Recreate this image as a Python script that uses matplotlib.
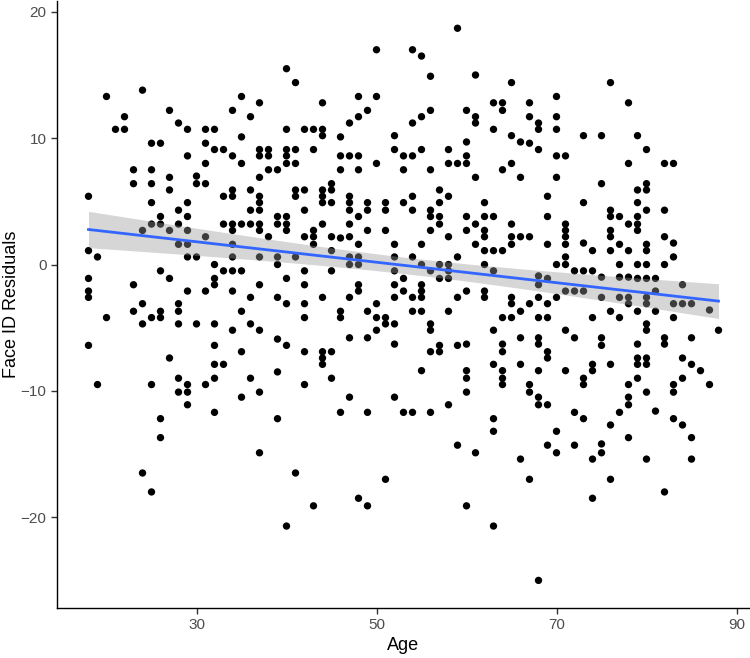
import numpy as np
import matplotlib
matplotlib.use('Agg')
from matplotlib import pyplot as plt

plt.rcParams['font.family'] = ['Liberation Sans', 'DejaVu Sans']

# Age / Face ID residual pairs (top band, middle band, bottom band)
age = [
    # residual > 5
    20, 24, 40, 27, 35, 34, 37, 22, 21, 22, 36, 28, 29, 31, 32, 40, 35, 25, 26, 31,
    32, 33, 37, 38, 40, 29, 34, 37, 38, 40, 31, 35, 40, 23, 25, 38, 39, 27, 30, 37,
    23, 25, 30, 31, 27, 34, 36, 18, 33, 34, 37,
    59, 50, 54, 55, 56, 61, 41, 65, 44, 48, 50, 49, 48, 47, 54, 55, 56, 60, 61, 61,
    63, 64, 64, 42, 43, 44, 44, 46, 52, 63, 65, 66, 60, 41, 43, 52, 55, 58, 46, 47,
    48, 53, 54, 60, 41, 50, 58, 59, 60, 65, 46, 48, 53, 56, 64, 61, 66, 45, 41, 42,
    44, 45, 57, 41, 44, 47, 54, 58,
    76, 70, 67, 78, 67, 70, 68, 68, 70, 73, 75, 79, 67, 68, 80, 70, 71, 78, 82, 83,
    70, 75, 80, 79, 80, 69,
    # -10.5 .. 5
    25, 29, 37, 28, 36, 37, 26, 29, 39, 40, 25, 26, 28, 33, 34, 35, 36, 37, 39, 40,
    24, 27, 29, 34, 37, 40, 31, 38, 28, 29, 34, 18, 19, 29, 30, 34, 37, 39, 32, 39,
    26, 33, 34, 35, 18, 27, 32, 40, 23, 32, 37, 18, 29, 31, 34, 18, 36, 39, 24, 28,
    40, 23, 26, 28, 35, 20, 25, 26, 24, 28, 30, 32, 36, 34, 37, 39, 18, 32, 40, 35,
    27, 32, 33, 39, 28, 32, 36, 19, 25, 29, 31, 28, 29, 37, 35,
    44, 45, 47, 49, 51, 53, 57, 62, 42, 47, 49, 51, 54, 56, 48, 56, 57, 60, 62, 63,
    44, 47, 57, 61, 65, 43, 49, 51, 56, 60, 62, 42, 43, 45, 46, 47, 58, 62, 65, 43,
    48, 52, 55, 61, 65, 45, 62, 63, 64, 41, 47, 48, 52, 54, 59, 47, 48, 55, 57, 58,
    62, 42, 45, 52, 56, 58, 63, 53, 57, 58, 42, 48, 52, 55, 48, 53, 55, 60, 62, 44,
    47, 52, 54, 55, 59, 62, 65, 42, 50, 65, 46, 49, 54, 55, 58, 42, 46, 50, 51, 64,
    65, 51, 52, 56, 50, 56, 63, 47, 49, 66, 52, 57, 59, 60, 64, 42, 44, 45, 56, 57,
    64, 44, 44, 63, 66, 55, 60, 64, 45, 60, 64, 42, 64, 60, 47, 52,
    73, 79, 76, 80, 82, 69, 76, 77, 79, 71, 78, 79, 71, 76, 79, 71, 76, 82, 66, 67,
    69, 71, 73, 77, 80, 83, 74, 76, 78, 80, 83, 71, 70, 71, 77, 79, 80, 82, 72, 73,
    74, 68, 69, 75, 77, 78, 79, 80, 81, 68, 84, 71, 72, 73, 81, 68, 70, 75, 77, 78,
    80, 66, 67, 69, 78, 80, 83, 84, 85, 87, 76, 79, 81, 68, 69, 74, 77, 83, 80, 80,
    71, 88, 68, 72, 75, 82, 85, 68, 75, 79, 82, 69, 69, 79, 80, 84, 74, 76, 79, 80,
    85, 68, 71, 74, 86, 79, 84, 73, 73, 67, 78, 83, 87, 67, 80, 83, 68, 78,
    # below -10.5
    29, 32, 26, 39, 26, 37, 24, 25, 40,
    46, 49, 53, 54, 56, 58, 63, 63, 59, 61, 66, 41, 51, 48, 43, 49, 60, 63,
    68, 69, 78, 72, 77, 81, 73, 83, 76, 84, 70, 78, 85, 69, 72, 75, 70, 75, 74, 80,
    85, 67, 76, 82, 74, 68,
]

face_id_resid = [
    13.3, 13.8, 15.5, 12.2, 13.3, 12.2, 12.8, 11.7, 10.7, 10.7, 11.7, 11.2, 10.7, 10.7, 10.7, 10.7, 10.1, 9.6, 9.6, 9.6,
    9.1, 9.1, 9.1, 9.1, 9.1, 8.6, 8.6, 8.6, 8.6, 8.6, 8.0, 8.0, 8.0, 7.5, 7.5, 7.5, 7.5, 6.9, 7.0, 6.9,
    6.4, 6.4, 6.4, 6.4, 5.9, 5.9, 5.9, 5.4, 5.4, 5.4, 5.4,
    18.7, 17.0, 17.0, 16.5, 14.9, 15.0, 14.4, 14.4, 12.8, 13.3, 13.3, 12.2, 11.7, 11.2, 11.2, 11.7, 12.2, 12.2, 11.7, 11.2,
    12.8, 12.8, 12.2, 10.7, 10.7, 10.7, 10.2, 10.1, 10.2, 10.7, 10.2, 9.7, 9.7, 9.1, 9.1, 9.1, 9.1, 9.1, 8.6, 8.6,
    8.6, 8.6, 8.6, 8.6, 8.0, 8.0, 8.0, 8.0, 8.0, 8.0, 7.5, 7.5, 7.5, 7.5, 7.5, 6.9, 6.9, 6.4, 5.9, 5.9,
    5.9, 5.9, 5.9, 5.4, 5.4, 5.4, 5.4, 5.4,
    14.4, 13.3, 12.8, 12.8, 11.7, 11.7, 11.2, 10.7, 10.7, 10.2, 10.2, 10.2, 9.6, 9.1, 9.1, 8.6, 8.6, 8.0, 8.0, 8.0,
    6.9, 6.4, 6.4, 5.9, 5.9, 5.4,
    4.9, 4.9, 4.9, 4.3, 4.3, 4.3, 3.8, 3.8, 3.8, 3.8, 3.2, 3.2, 3.2, 3.2, 3.2, 3.2, 3.2, 3.2, 3.2, 3.2,
    2.7, 2.7, 2.7, 2.7, 2.7, 2.7, 2.2, 2.2, 1.6, 1.6, 1.6, 1.1, 0.6, 0.6, 0.6, 0.6, 0.6, 0.6, 0.0, 0.0,
    -0.5, -0.5, -0.5, -0.5, -1.1, -1.1, -1.1, -1.1, -1.6, -1.6, -1.6, -2.1, -2.1, -2.1, -2.1, -2.6, -2.6, -2.6, -3.1, -3.1,
    -3.1, -3.7, -3.7, -3.7, -3.7, -4.2, -4.2, -4.2, -4.7, -4.7, -4.7, -4.7, -4.7, -5.2, -5.2, -5.9, -6.4, -6.4, -6.4, -6.9,
    -7.4, -7.9, -7.9, -8.5, -9.0, -9.0, -9.0, -9.5, -9.5, -9.5, -9.5, -10.1, -10.1, -10.1, -10.5,
    4.9, 4.9, 4.9, 4.9, 4.9, 4.9, 4.9, 4.9, 4.3, 4.3, 4.3, 4.3, 4.3, 4.3, 3.8, 3.8, 3.8, 3.8, 3.8, 3.8,
    3.2, 3.2, 3.2, 3.2, 3.2, 2.7, 2.7, 2.7, 2.7, 2.7, 2.7, 2.2, 2.2, 2.2, 2.1, 2.2, 2.2, 2.2, 2.2, 1.6,
    1.6, 1.6, 1.6, 1.6, 1.6, 1.1, 1.1, 1.1, 1.1, 0.6, 0.6, 0.6, 0.6, 0.6, 0.6, 0.0, 0.0, 0.0, 0.0, 0.0,
    0.0, -0.5, -0.5, -0.5, -0.5, -0.5, -0.5, -1.1, -1.1, -1.1, -1.6, -1.6, -1.6, -1.6, -2.1, -2.1, -2.1, -2.1, -2.1, -2.6,
    -2.6, -2.6, -2.6, -2.6, -2.6, -2.6, -2.6, -3.1, -3.1, -3.1, -3.7, -3.7, -3.7, -3.7, -3.7, -4.2, -4.2, -4.2, -4.2, -4.2,
    -4.2, -4.7, -4.7, -4.7, -5.2, -5.2, -5.2, -5.8, -5.8, -5.8, -6.3, -6.4, -6.4, -6.3, -6.3, -6.9, -6.9, -6.9, -6.9, -6.9,
    -6.9, -7.4, -7.9, -7.9, -7.9, -8.4, -8.4, -8.4, -9.0, -9.0, -9.0, -9.5, -9.5, -10.1, -10.5, -10.5,
    4.9, 4.9, 4.3, 4.3, 4.3, 3.8, 3.8, 3.8, 3.8, 3.2, 3.2, 3.2, 2.7, 2.7, 2.7, 2.2, 2.2, 2.2, 2.2, 2.2,
    1.6, 1.6, 1.7, 1.6, 1.6, 1.7, 1.1, 1.1, 1.1, 1.1, 0.6, 0.6, 0.0, 0.0, 0.0, 0.0, 0.0, 0.0, -0.5, -0.5,
    -0.5, -0.9, -1.1, -1.0, -1.0, -1.0, -1.1, -1.1, -1.1, -1.6, -1.6, -2.1, -2.1, -2.1, -2.1, -2.6, -2.6, -2.6, -2.6, -2.6,
    -2.6, -3.7, -3.1, -3.1, -3.1, -3.1, -3.1, -3.1, -3.1, -3.6, -3.7, -3.7, -3.7, -4.2, -4.2, -4.2, -4.2, -4.2, -4.7, -5.2,
    -5.2, -5.2, -5.8, -5.8, -5.8, -5.8, -5.8, -6.3, -6.4, -6.3, -6.3, -6.9, -7.4, -7.4, -7.4, -7.4, -7.9, -7.9, -7.9, -7.9,
    -7.9, -8.4, -8.4, -8.4, -8.4, -9.0, -9.0, -9.0, -9.5, -9.5, -9.5, -9.5, -9.5, -10.1, -10.1, -10.1, -10.5, -10.5,
    -11.1, -11.7, -12.2, -12.2, -13.7, -14.9, -16.5, -18.0, -20.7,
    -11.7, -11.7, -11.7, -11.7, -11.7, -11.1, -12.2, -13.2, -14.3, -14.9, -15.4, -16.5, -17.0, -18.5, -19.1, -19.1, -19.1, -20.7,
    -11.1, -11.1, -11.1, -11.7, -11.7, -11.6, -12.2, -12.2, -12.7, -12.7, -13.2, -13.7, -13.7, -14.3, -14.3, -14.2, -14.9, -14.9, -15.4, -15.4,
    -15.4, -17.0, -17.0, -18.0, -18.5, -25.0,
]

x_ticks = [30, 50, 70, 90]
y_ticks = [-20, -10, 0, 10, 20]

x = np.array(age, dtype=float)
y = np.array(face_id_resid, dtype=float)

# lm fit + 95% band, like geom_smooth(method = "lm")
slope, icpt = np.polyfit(x, y, 1)
n = len(x)
resid = y - (icpt + slope * x)
s = np.sqrt(np.sum(resid ** 2) / (n - 2))
xs = np.linspace(x.min(), x.max(), 80)
fit = icpt + slope * xs
se = s * np.sqrt(1.0 / n + (xs - x.mean()) ** 2 / np.sum((x - x.mean()) ** 2))
lo, hi = fit - 1.965 * se, fit + 1.965 * se

fig = plt.figure(figsize=(7.5, 6.58), dpi=100)
ax = fig.add_axes([0.076, 0.076, 0.924, 0.923])

ax.scatter(x, y, s=28, color='black', edgecolors='none', zorder=2)
ax.fill_between(xs, lo, hi, color='#999999', alpha=0.4, linewidth=0, zorder=3)
ax.plot(xs, fit, color='#3366FF', linewidth=2, zorder=4)

xr = x.max() - x.min()
yr = y.max() - y.min()
ax.set_xlim(x.min() - 0.05 * xr, x.max() + 0.05 * xr)
ax.set_ylim(y.min() - 0.05 * yr, y.max() + 0.05 * yr)

ax.set_xticks(x_ticks)
ax.set_yticks(y_ticks)
ax.tick_params(colors='#333333', labelcolor='#4D4D4D', labelsize=11, length=4, width=1)
for side in ['top', 'right']:
    ax.spines[side].set_visible(False)
for side in ['left', 'bottom']:
    ax.spines[side].set_color('black')
    ax.spines[side].set_linewidth(1)

ax.set_xlabel('Age', fontsize=13, color='black', labelpad=3)
ax.set_ylabel('Face ID Residuals', fontsize=13, color='black', va='center')
ax.yaxis.set_label_coords(-0.065, 0.5)

fig.savefig('out.png', dpi=100)
